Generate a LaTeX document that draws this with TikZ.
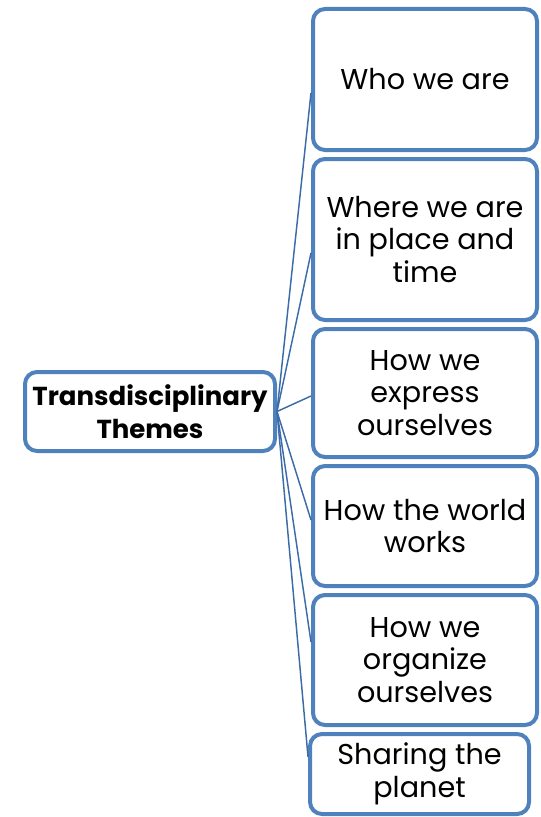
\documentclass[tikz,border=0pt]{standalone}
\usepackage{fontspec}
\setmainfont{Poppins}
\usetikzlibrary{positioning}
\definecolor{themeblue}{HTML}{4F81BD}
\definecolor{linkblue}{HTML}{3C6CA8}
\tikzset{
  theme/.style={draw=themeblue, line width=3pt, fill=white, rectangle,
    rounded corners=9pt, align=center, text=black,
    font=\fontsize{19.5}{24.5}\selectfont},
  topic/.style={theme, minimum width=168pt, font=\fontsize{21.5}{24.5}\selectfont},
  link/.style={draw=linkblue, line width=1.1pt}
}
\begin{document}
\begin{tikzpicture}[x=0.75pt,y=-0.75pt,node distance=3.75pt]
    \useasboundingbox (0,0) rectangle (541,817);
    \node [theme, minimum width=187.5pt, minimum height=59.25pt] (themes) at (150,411.5) {\textbf{Transdisciplinary}\\ \textbf{Themes}};
    \node [topic, minimum height=105.75pt] (who) at (425,79.5) {Who we are};
    \node [topic, minimum height=120.75pt, below=of who] (where) {Where we are\\ in place and\\ time};
    \node [topic, minimum height=96pt, below=of where] (express) {How we\\ express\\ ourselves};
    \node [topic, minimum height=90pt, below=of express] (world) {How the world\\ works};
    \node [topic, minimum height=97.5pt, below=of world] (organize) {How we\\ organize\\ ourselves};
    \node [topic, minimum width=164.25pt, minimum height=60pt, below=of organize, xshift=-4.1pt] (planet) {Sharing the\\ planet};
	\draw [link] (themes.east) -- ([yshift=-10.1pt]who.west);
	\draw [link] (themes.east) -- ([yshift=-10.1pt]where.west);
	\draw [link] (themes.east) -- ([yshift=-2.25pt]express.west);
	\draw [link] (themes.east) -- ([yshift=4.5pt]world.west);
	\draw [link] (themes.east) -- ([yshift=13.5pt]organize.west);
	\draw [link] (themes.east) -- ([yshift=12.75pt]planet.west);
\end{tikzpicture}
\end{document}
